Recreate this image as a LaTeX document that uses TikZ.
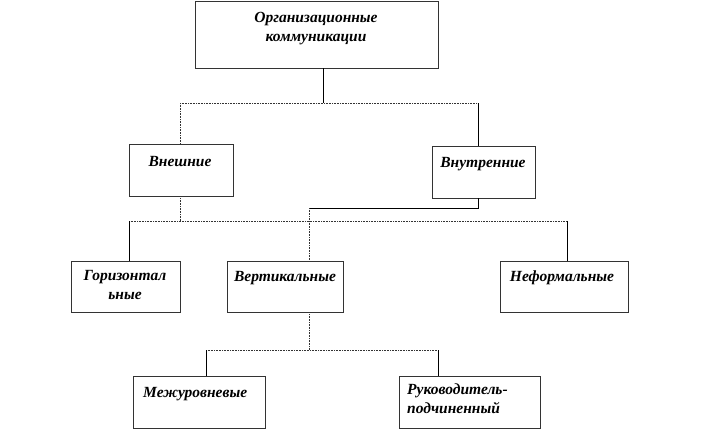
\documentclass[tikz,border=0pt]{standalone}
\usepackage{fontspec}
\setmainfont{Liberation Serif}
\begin{document}
\begin{tikzpicture}[x=1pt,y=-1pt,
  box/.style={draw=black!80,line width=0.6pt,fill=white,inner sep=0pt},
  txt/.style={font=\fontsize{15.5}{19}\selectfont\bfseries\itshape,inner sep=0pt,align=center},
  ln/.style={draw=black,line width=0.6pt},
  dln/.style={draw=black!80,line width=0.6pt,densely dotted}]
\useasboundingbox (0,0) rectangle (709,431);
% boxes
\node[box,minimum width=243pt,minimum height=67pt] (top) at (316.5,34.5) {};
\node[txt] (topt) at (316,29) {Организационные\\коммуникации};
\node[box,minimum width=104pt,minimum height=52pt] (vneshn) at (181,170) {};
\node[txt] (vneshnt) at (180,162) {Внешние};
\node[box,minimum width=103pt,minimum height=52pt] (vnutr) at (483.5,172) {};
\node[txt] (vnutrt) at (483,164) {Внутренние};
\node[box,minimum width=109pt,minimum height=51pt] (gor) at (125.5,286.5) {};
\node[txt] (gort) at (125,285) {Горизонтал\\ьные};
\node[box,minimum width=116pt,minimum height=51pt] (vert) at (285,286.5) {};
\node[txt] (vertt) at (285,278) {Вертикальные};
\node[box,minimum width=128pt,minimum height=51pt] (neform) at (564,286.5) {};
\node[txt] (neformt) at (562,278) {Неформальные};
\node[box,minimum width=132pt,minimum height=52pt] (mezh) at (199,402) {};
\node[txt,anchor=west] (mezht) at (143,394) {Межуровневые};
\node[box,minimum width=141pt,minimum height=52pt] (ruk) at (469.5,402) {};
\node[txt,anchor=west,align=left] (rukt) at (407,399) {Руководитель-\\подчиненный};
% junctions
\coordinate (a) at (323,103);
\coordinate (h1L) at (180,103);
\coordinate (h1R) at (478,103);
\coordinate (h2L) at (129,221);
\coordinate (h2R) at (567,221);
\coordinate (h2M) at (309,221);
\coordinate (b) at (309,208);
\coordinate (h3L) at (206,350);
\coordinate (h3R) at (438,350);
\coordinate (h3M) at (309,350);
% connectors
\draw[ln] (top.south -| a) -- (a);
\draw[dln] (h1L) -- (h1R);
\draw[dln] (h1L) -- (h1L |- vneshn.north);
\draw[ln] (h1R) -- (h1R |- vnutr.north);
\draw[dln] (h1L |- vneshn.south) -- (h1L |- h2L);
\draw[dln] (h2L) -- (h2R);
\draw[ln] (h1R |- vnutr.south) -- (h1R |- b) -- (b);
\draw[dln] (b) -- (h2M);
\draw[ln] (h2L) -- (h2L |- gor.north);
\draw[dln] (h2M) -- (h2M |- vert.north);
\draw[ln] (h2R) -- (h2R |- neform.north);
\draw[dln] (h2M |- vert.south) -- (h3M);
\draw[dln] (h3L) -- (h3R);
\draw[ln] (h3L) -- (h3L |- mezh.north);
\draw[ln] (h3R) -- (h3R |- ruk.north);
\end{tikzpicture}
\end{document}
